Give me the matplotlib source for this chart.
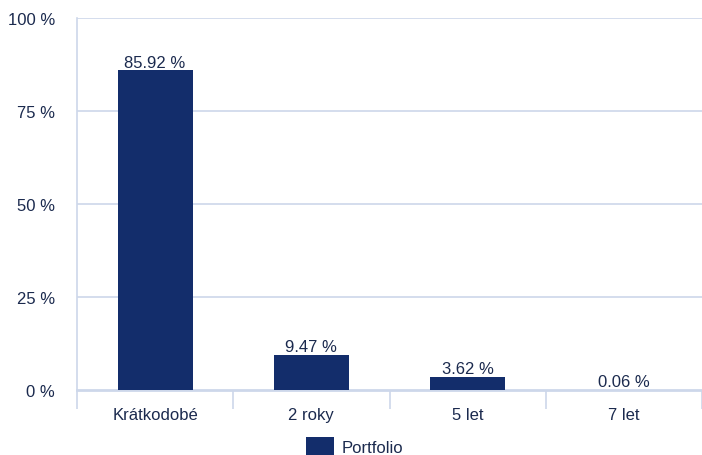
import matplotlib.pyplot as plt
import numpy as np

categories = ["Krátkodobé", "2 roky", "5 let", "7 let"]
values = [85.92, 9.47, 3.62, 0.06]
value_labels = ["85.92 %", "9.47 %", "3.62 %", "0.06 %"]
yticks = [0, 25, 50, 75, 100]
ytick_labels = ["0 %", "25 %", "50 %", "75 %", "100 %"]

bar_color = "#132d6b"
text_color = "#1b2a4e"
grid_color = "#cdd7ea"

plt.rcParams['font.family'] = ['Liberation Sans', 'DejaVu Sans']

fig = plt.figure(figsize=(7.02, 4.56), dpi=100)
ax = fig.add_axes([77/702, 1-391/456, 625/702, 372/456])

x = np.arange(len(categories))
bars = ax.bar(x, values, width=0.48, color=bar_color, label="Portfolio", zorder=3)

for xi, v, lab in zip(x, values, value_labels):
    ax.text(xi, v + 0.2, lab, ha="center", va="bottom", fontsize=12, color=text_color, zorder=4)

ax.set_xlim(-0.5, len(categories) - 0.5)
ax.set_ylim(0, 100)
ax.set_yticks(yticks)
ax.set_yticklabels(ytick_labels, fontsize=12, color=text_color)
ax.set_xticks(x)
ax.set_xticklabels(categories, fontsize=12, color=text_color)
ax.set_xticks(np.arange(-0.5, len(categories)), minor=True)

ax.tick_params(axis="y", length=0, pad=16)
ax.tick_params(axis="x", which="major", length=0, pad=12)
ax.tick_params(axis="x", which="minor", length=14, width=1.2, color=grid_color, direction="out")

for yv in yticks[1:]:
    ax.axhline(yv, color=grid_color, lw=1.2, zorder=1)

for s in ["top", "right"]:
    ax.spines[s].set_visible(False)
ax.spines["left"].set_color(grid_color)
ax.spines["left"].set_linewidth(1.2)
ax.spines["bottom"].set_color(grid_color)
ax.spines["bottom"].set_linewidth(2)

fig.legend(handles=[bars], labels=["Portfolio"], loc="lower center",
           bbox_to_anchor=(0.505, -0.035), frameon=False, fontsize=12,
           labelcolor=text_color, handlelength=1.7, handleheight=1.35, handletextpad=0.45)

fig.savefig("out.png", dpi=100)
